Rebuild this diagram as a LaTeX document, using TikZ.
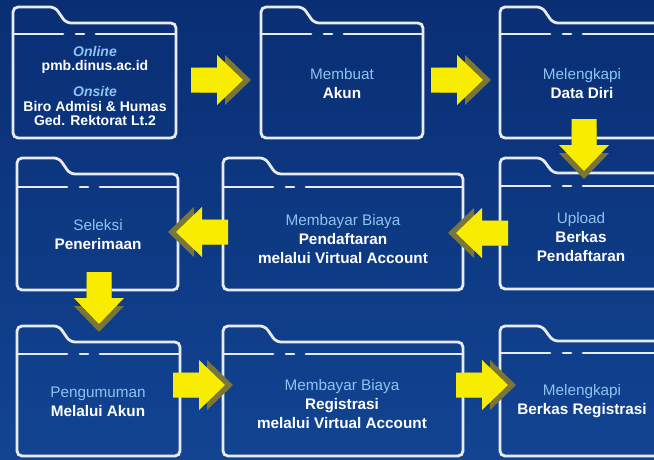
\documentclass[tikz,border=0pt]{standalone}
\usepackage{fontspec}
\setmainfont{Liberation Sans}
\definecolor{bgtop}{RGB}{9,46,116}
\definecolor{bgbot}{RGB}{18,68,146}
\definecolor{lb}{RGB}{140,196,240}
\definecolor{fline}{RGB}{232,236,242}
\definecolor{ayel}{RGB}{248,236,0}
\definecolor{ashad}{RGB}{122,118,58}
\tikzset{
  folder/.style={draw=fline, line width=2.8pt, rounded corners=5pt},
  folderdiv/.style={draw=fline, line width=2.8pt, line cap=round},
  txt/.style={align=center, text=white, font=\fontsize{15.3}{19}\selectfont, inner sep=0pt},
  txtsmall/.style={align=center, text=white, font=\fontsize{14}{14.5}\selectfont\bfseries, inner sep=0pt},
}
\newcommand\drawfolder[6]{%
  \draw[folder] ({(#1+#3)/2},#4) -- (#1,#4) -- (#1,#2) -- ({#1+42},#2) -- ({#1+53},#5) -- (#3,#5) -- (#3,#4) -- cycle;
  \draw[folderdiv] (#1,#6) -- ({#1+50},#6) ({#1+63},#6) -- ({#1+71},#6) ({#1+83},#6) -- (#3,#6);}
\newcommand\blockarrow[3]{%
  \begin{scope}[shift={(#1,#2)},rotate=#3]
    \fill[ashad] (8,-12.5) -- (34,-12.5) -- (34,-25) -- (60,0) -- (34,25) -- (34,12.5) -- (8,12.5) -- cycle;
    \fill[ayel] (0,-12.5) -- (26,-12.5) -- (26,-25) -- (52,0) -- (26,25) -- (26,12.5) -- (0,12.5) -- cycle;
  \end{scope}}
\begin{document}
\begin{tikzpicture}[x=1pt,y=-1pt]
\useasboundingbox (0,0) rectangle (654,459);
\clip (0,0) rectangle (654,459);
\shade[top color=bgtop, bottom color=bgbot] (0,0) rectangle (654,459);
% folders
\drawfolder{13}{7}{176}{138}{23}{34}
\drawfolder{261}{7}{423}{138}{23}{34}
\drawfolder{500}{7}{700}{138}{23}{34}
\drawfolder{17}{158}{178}{290}{174}{187}
\drawfolder{223}{158}{463}{290}{174}{187}
\drawfolder{500}{158}{700}{289}{173}{186}
\drawfolder{17}{326}{180}{456}{342}{354}
\drawfolder{223}{326}{463}{456}{342}{354}
\drawfolder{500}{326}{700}{456}{341}{353}
% texts
\node[txtsmall] (n1a) at (95,60) {{\itshape\color{lb}Online}\\pmb.dinus.ac.id};
\node[txtsmall] (n1b) at (95,106) {{\itshape\color{lb}Onsite}\\Biro Admisi \& Humas\\Ged. Rektorat Lt.2};
\node[txt] (n2) at (342,84) {{\color{lb}Membuat}\\\textbf{Akun}};
\node[txt] (n3) at (582,84) {{\color{lb}Melengkapi}\\\textbf{Data Diri}};
\node[txt] (n4) at (98,234.5) {{\color{lb}Seleksi}\\\textbf{Penerimaan}};
\node[txt] (n5) at (343,239) {{\color{lb}Membayar Biaya}\\\textbf{Pendaftaran}\\\textbf{melalui Virtual Account}};
\node[txt] (n6) at (581,237) {{\color{lb}Upload}\\\textbf{Berkas}\\\textbf{Pendaftaran}};
\node[txt] (n7) at (98,401.5) {{\color{lb}Pengumuman}\\\textbf{Melalui Akun}};
\node[txt] (n8) at (342,404) {{\color{lb}Membayar Biaya}\\\textbf{Registrasi}\\\textbf{melalui Virtual Account}};
\node[txt] (n9) at (582,401.5) {{\color{lb}Melengkapi}\\\textbf{Berkas Registrasi}};
% arrows
\blockarrow{191}{80}{0}
\blockarrow{431}{80}{0}
\blockarrow{584}{119}{-90}
\blockarrow{508}{233}{180}
\blockarrow{228}{232}{180}
\blockarrow{99}{272}{-90}
\blockarrow{173}{385}{0}
\blockarrow{456}{385}{0}
\end{tikzpicture}
\end{document}
